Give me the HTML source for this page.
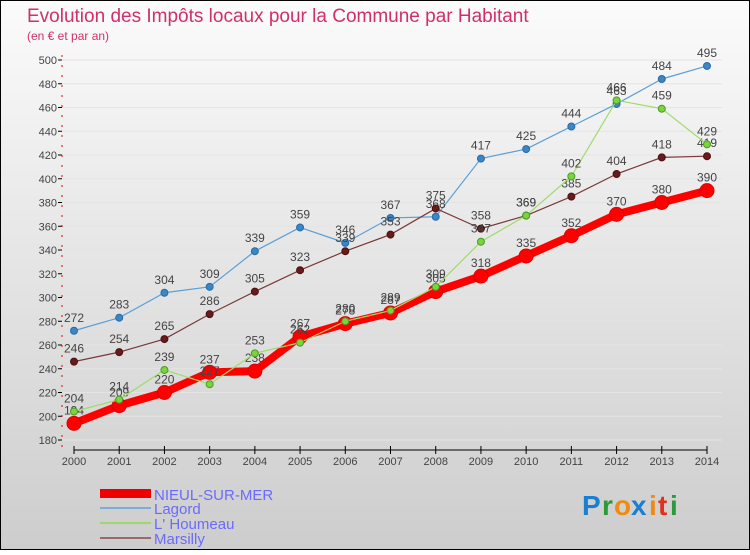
<!DOCTYPE html>
<html><head><meta charset="utf-8">
<style>
body{margin:0;width:750px;height:550px;overflow:hidden;font-family:"Liberation Sans",sans-serif}
svg text{font-family:"Liberation Sans",sans-serif}
</style></head>
<body>
<svg id="chart" width="750" height="550" xmlns="http://www.w3.org/2000/svg">
<defs><linearGradient id="bg" x1="0" y1="0" x2="0" y2="1"><stop offset="0" stop-color="#fbfbfb"/><stop offset="1" stop-color="#cdcdcd"/></linearGradient></defs>
<rect x="0.5" y="0.5" width="749" height="549" fill="url(#bg)" stroke="#000"/>
<text x="27" y="22" font-size="19" fill="#d0306a">Evolution des Impôts locaux pour la Commune par Habitant</text>
<text x="27" y="40" font-size="12" fill="#d0306a">(en € et par an)</text>
<g id="grid"></g><g id="axes"></g><g id="series"></g>
<g>
<rect x="100" y="489" width="51" height="9" fill="#e00"/>
<text x="154" y="500" font-size="15" fill="#6a6aff">NIEUL-SUR-MER</text>
<rect x="100" y="507" width="51" height="2" fill="#7aaed6"/>
<text x="154" y="514" font-size="15" fill="#6a6aff">Lagord</text>
<rect x="100" y="522" width="51" height="2" fill="#9ed86a"/>
<text x="154" y="529" font-size="15" fill="#6a6aff">L' Houmeau</text>
<rect x="100" y="537" width="51" height="2" fill="#9a6a6a"/>
<text x="154" y="544" font-size="15" fill="#6a6aff">Marsilly</text>
</g>
<g font-size="28" font-weight="bold">
<text x="582" y="515" fill="#1a7fd0">P</text><text x="602" y="515" fill="#2a9a3a">r</text><text x="614" y="515" fill="#f08a10">o</text><text x="631" y="515" fill="#1a7fd0">x</text><text x="649" y="515" fill="#f08a10">i</text><text x="658" y="515" fill="#e03020">t</text><text x="670" y="515" fill="#2a9a3a">i</text>
</g>
</svg>
<script>
const years=[2000,2001,2002,2003,2004,2005,2006,2007,2008,2009,2010,2011,2012,2013,2014];
const yTicks=[180,200,220,240,260,280,300,320,340,360,380,400,420,440,460,480,500];
const nieul=[194,209,220,237,238,267,278,287,305,318,335,352,370,380,390];
const lagord=[272,283,304,309,339,359,346,367,368,417,425,444,463,484,495];
const houmeau=[204,214,239,227,253,262,280,289,309,347,369,402,466,459,429];
const marsilly=[246,254,265,286,305,323,339,353,375,358,369,385,404,418,419];
const NS="http://www.w3.org/2000/svg";
const x=i=>74+i*(707-74)/(years.length-1);
const y=v=>440-(v-180)*380/320;
function mk(tag,attrs,parent){const e=document.createElementNS(NS,tag);for(const k in attrs)e.setAttribute(k,attrs[k]);parent.appendChild(e);return e;}
const grid=document.getElementById('grid'),axes=document.getElementById('axes'),ser=document.getElementById('series');
yTicks.forEach(t=>{
  const l=mk('line',{x1:62,x2:722,y1:y(t),y2:y(t),stroke:'#e4e4e4','stroke-width':1},grid);
  
  
  const tx=mk('text',{x:57,y:y(t)+4,'font-size':11,fill:'#444','text-anchor':'end'},axes);
  tx.textContent=t;
  
  
  const tk=mk('line',{x1:58,x2:62,y1:y(t),y2:y(t),stroke:'#000'},axes);
  
  
});
const ya=mk('line',{x1:62,x2:62,y1:55,y2:450,stroke:'#e00','stroke-dasharray':'2,8'},axes);


const xa=mk('line',{x1:74,x2:707,y1:450,y2:450,stroke:'#000'},axes);


years.forEach((yr,i)=>{
  const tk=mk('line',{x1:x(i),x2:x(i),y1:446,y2:454,stroke:'#000'},axes);
  
  
  const t=mk('text',{x:x(i),y:465,'font-size':11,fill:'#444','text-anchor':'middle'},axes);
  t.textContent=yr;
  
  
});
function draw(vals,name,color,dot,w,r,dotStroke){
  const g=mk('g',{},ser);
  
  
  const p=mk('polyline',{points:vals.map((v,i)=>x(i)+','+y(v)).join(' '),fill:'none',stroke:color,'stroke-width':w,'stroke-linejoin':'round'},g);
  
  
  vals.forEach((v,i)=>{
    const c=mk('circle',{cx:x(i),cy:y(v),r:r,fill:dot,stroke:dotStroke,'stroke-width':1},g);
    
    
    const t=mk('text',{x:x(i),y:y(v)-9,'font-size':12,fill:'#444','text-anchor':'middle'},g);
    t.textContent=v;
    
    
  });
}
draw(lagord,'lagord','#5a9fd6','#3a86c6',1.2,3.5,'#2a6aa6');
draw(marsilly,'marsilly','#7a3a3a','#6a1a1a',1.2,3.5,'#4a1010');
draw(nieul,'nieul','#f00','#f00',8,7,'#d00');
draw(houmeau,'houmeau','#9edc6a','#7ad43a',1.2,3.5,'#4a9a2a');
</script>
</body></html>
